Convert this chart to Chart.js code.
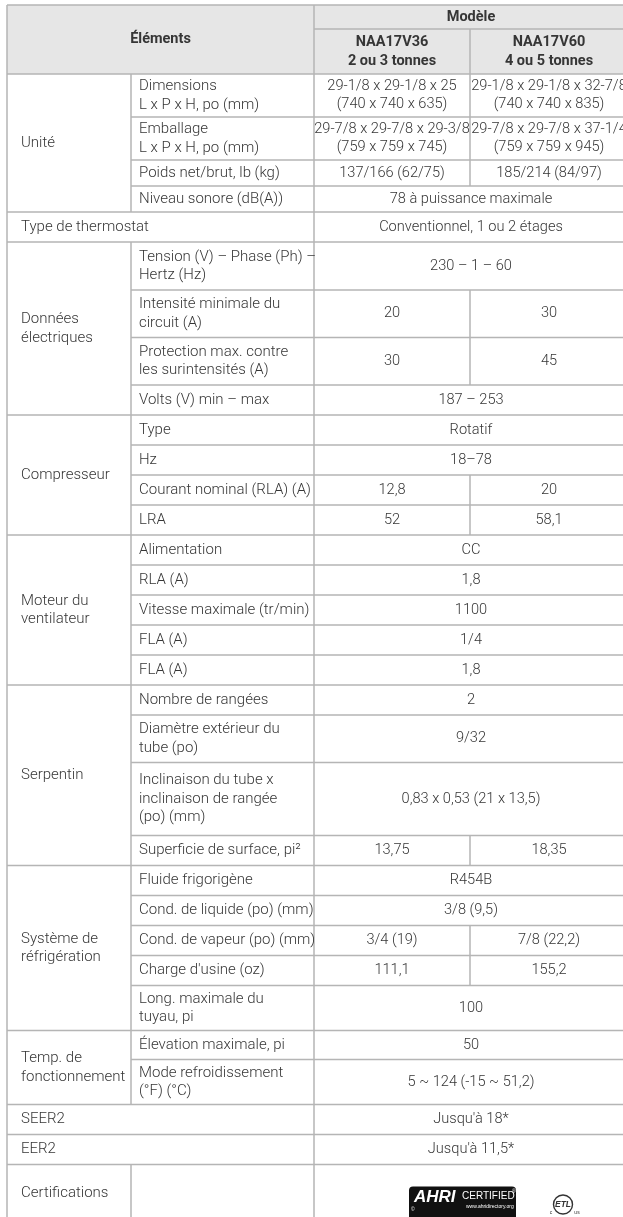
<!DOCTYPE html>
<html lang="fr">
<head>
<meta charset="utf-8">
<title>Caractéristiques NAA17V36 / NAA17V60</title>
<script src="https://cdn.jsdelivr.net/npm/chart.js@4.4.1/dist/chart.umd.min.js"></script>
<style>
  html, body { margin: 0; padding: 0; background: #fff; }
  #wrap { width: 623px; height: 1217px; }
</style>
</head>
<body>
<div id="wrap"><canvas id="specs"></canvas></div>
<script>
// contenu du tableau
const headerLabel = 'Éléments';
const modelLabel = 'Modèle';
const modelNames = ['NAA17V36', 'NAA17V60'];
const modelSizes = ['2 ou 3 tonnes', '4 ou 5 tonnes'];

const groupNames = ['Unité', 'Type de thermostat', 'Données\nélectriques', 'Compresseur', 'Moteur du\nventilateur',
  'Serpentin', 'Système de\nréfrigération', 'Temp. de\nfonctionnement', 'SEER2', 'EER2', 'Certifications'];
const groupSizes = [4, 1, 4, 4, 5, 4, 5, 2, 1, 1, 1];

// null = le libellé du groupe occupe aussi la colonne des paramètres
const paramLabels = [
  'Dimensions\nL x P x H, po (mm)', 'Emballage\nL x P x H, po (mm)', 'Poids net/brut, lb (kg)', 'Niveau sonore (dB(A))',
  null,
  'Tension (V) – Phase (Ph) –\nHertz (Hz)', 'Intensité minimale du\ncircuit (A)', 'Protection max. contre\nles surintensités (A)', 'Volts (V) min – max',
  'Type', 'Hz', 'Courant nominal (RLA) (A)', 'LRA',
  'Alimentation', 'RLA (A)', 'Vitesse maximale (tr/min)', 'FLA (A)', 'FLA (A)',
  'Nombre de rangées', 'Diamètre extérieur du\ntube (po)', 'Inclinaison du tube x\ninclinaison de rangée\n(po) (mm)', 'Superficie de surface, pi²',
  'Fluide frigorigène', 'Cond. de liquide (po) (mm)', 'Cond. de vapeur (po) (mm)', 'Charge d\'usine (oz)', 'Long. maximale du\ntuyau, pi',
  'Élevation maximale, pi', 'Mode refroidissement\n(°F) (°C)',
  null,
  null,
  ''
];

const valuesV36 = [
  '29-1/8 x 29-1/8 x 25\n(740 x 740 x 635)', '29-7/8 x 29-7/8 x 29-3/8\n(759 x 759 x 745)', '137/166 (62/75)', '78 à puissance maximale',
  'Conventionnel, 1 ou 2 étages',
  '230 – 1 – 60', '20', '30', '187 – 253',
  'Rotatif', '18–78', '12,8', '52',
  'CC', '1,8', '1100', '1/4', '1,8',
  '2', '9/32', '0,83 x 0,53 (21 x 13,5)', '13,75',
  'R454B', '3/8 (9,5)', '3/4 (19)', '111,1', '100',
  '50', '5 ~ 124 (-15 ~ 51,2)',
  'Jusqu\'à 18*',
  'Jusqu\'à 11,5*',
  ''
];

// null = même valeur pour les deux modèles (cellule fusionnée)
const valuesV60 = [
  '29-1/8 x 29-1/8 x 32-7/8\n(740 x 740 x 835)', '29-7/8 x 29-7/8 x 37-1/4\n(759 x 759 x 945)', '185/214 (84/97)', null,
  null,
  null, '30', '45', null,
  null, null, '20', '58,1',
  null, null, null, null, null,
  null, null, null, '18,35',
  null, null, '7/8 (22,2)', '155,2', null,
  null, null,
  null,
  null,
  null
];

const certLogos = ['AHRI', 'CERTIFIED', 'www.ahridirectory.org', 'ETL'];

// mise en page (unités de l'axe = pixels de la page)
const colEdges = [7, 131, 314, 470, 628];
const headerEdges = [5, 29, 74];
const rowHeights = [43, 43, 26, 26, 30, 48, 47.5, 47.5, 30, 30, 30, 30, 30, 30, 30, 30, 30, 30, 30, 47.5, 73, 30,
  30, 30, 30, 30, 45, 29, 45, 30, 30, 58];
const lineStep = 18.5;
const labelFont = '300 15px Roboto, "Liberation Sans", sans-serif';
const valueFont = '300 14.6px Roboto, "Liberation Sans", sans-serif';
const headFont = 'bold 14.5px Roboto, "Liberation Sans", sans-serif';
const textColor = '#363636';
const ruleColor = '#b5b5b5';
const headFill = '#e6e6e6';

const tablePlugin = {
  id: 'specTable',
  afterDraw(chart) {
    const { ctx, scales: { x, y } } = chart;
    const X = v => x.getPixelForValue(v);
    const Y = v => y.getPixelForValue(v);

    const rowTops = [headerEdges[2]];
    rowHeights.forEach(h => rowTops.push(rowTops[rowTops.length - 1] + h));

    const hline = (x0, x1, yv) => {
      ctx.beginPath(); ctx.moveTo(X(x0), Y(yv)); ctx.lineTo(X(x1), Y(yv)); ctx.stroke();
    };
    const vline = (xv, y0, y1) => {
      ctx.beginPath(); ctx.moveTo(X(xv), Y(y0)); ctx.lineTo(X(xv), Y(y1)); ctx.stroke();
    };
    const text = (str, xv, y0, y1, align) => {
      const lines = str.split('\n');
      const mid = (y0 + y1) / 2;
      ctx.textAlign = align;
      ctx.textBaseline = 'middle';
      lines.forEach((ln, i) => {
        ctx.fillText(ln, X(xv), Y(mid + (i - (lines.length - 1) / 2) * lineStep));
      });
    };

    ctx.save();
    // en-tête
    ctx.fillStyle = headFill;
    ctx.fillRect(X(colEdges[0]), Y(headerEdges[0]), X(colEdges[4]) - X(colEdges[0]), Y(headerEdges[2]) - Y(headerEdges[0]));

    ctx.fillStyle = textColor;
    ctx.font = headFont;
    text(headerLabel, (colEdges[0] + colEdges[2]) / 2, headerEdges[0], headerEdges[2], 'center');
    text(modelLabel, (colEdges[2] + colEdges[4]) / 2, headerEdges[0], headerEdges[1], 'center');
    modelNames.forEach((m, i) => {
      text(m + '\n' + modelSizes[i], (colEdges[2 + i] + colEdges[3 + i]) / 2, headerEdges[1], headerEdges[2] + 1, 'center');
    });

    ctx.strokeStyle = ruleColor;
    ctx.lineWidth = 1.5;
    hline(colEdges[0], colEdges[4], headerEdges[0]);
    hline(colEdges[2], colEdges[4], headerEdges[1]);
    hline(colEdges[0], colEdges[4], headerEdges[2]);
    vline(colEdges[0], headerEdges[0], rowTops[rowTops.length - 1]);
    vline(colEdges[2], headerEdges[0], rowTops[rowTops.length - 1]);
    vline(colEdges[3], headerEdges[1], headerEdges[2]);

    // corps
    let r = 0;
    groupNames.forEach((g, gi) => {
      const first = r, last = r + groupSizes[gi] - 1;
      const gTop = rowTops[first], gBot = rowTops[last + 1];
      ctx.fillStyle = textColor;
      ctx.font = labelFont;
      text(g, colEdges[0] + 14, gTop, gBot, 'left');
      if (paramLabels[first] !== null) {
        ctx.strokeStyle = ruleColor;
        vline(colEdges[1], gTop, gBot);
      }
      for (let i = first; i <= last; i++) {
        const t = rowTops[i], b = rowTops[i + 1];
        ctx.fillStyle = textColor;
        ctx.font = labelFont;
        if (paramLabels[i]) text(paramLabels[i], colEdges[1] + 8, t, b, 'left');
        ctx.font = valueFont;
        if (valuesV60[i] === null) {
          text(valuesV36[i], (colEdges[2] + colEdges[4]) / 2, t, b, 'center');
        } else {
          text(valuesV36[i], (colEdges[2] + colEdges[3]) / 2, t, b, 'center');
          text(valuesV60[i], (colEdges[3] + colEdges[4]) / 2, t, b, 'center');
          ctx.strokeStyle = ruleColor;
          vline(colEdges[3], t, b);
        }
        ctx.strokeStyle = ruleColor;
        hline(i === last ? colEdges[0] : colEdges[1], colEdges[4], b);
      }
      r = last + 1;
    });

    // logos de certification
    const cTop = rowTops[rowTops.length - 2];
    const bx0 = 409, bx1 = 516, by0 = cTop + 22;
    ctx.fillStyle = '#111';
    ctx.beginPath();
    ctx.roundRect(X(bx0), Y(by0), X(bx1) - X(bx0), Y(by0 + 45) - Y(by0), 4);
    ctx.fill();
    ctx.fillStyle = '#fff';
    ctx.textAlign = 'left';
    ctx.textBaseline = 'alphabetic';
    ctx.font = 'italic 900 17px "Liberation Sans", Arial, sans-serif';
    ctx.fillText(certLogos[0], X(bx0 + 5), Y(by0 + 15));
    ctx.font = '10px "Liberation Sans", Arial, sans-serif';
    ctx.fillText(certLogos[1], X(bx0 + 53), Y(by0 + 12));
    ctx.font = '5px "Liberation Sans", Arial, sans-serif';
    ctx.fillText('®', X(bx0 + 103), Y(by0 + 6));
    ctx.fillText(certLogos[2], X(bx0 + 57), Y(by0 + 21));
    ctx.fillText('©', X(bx0 + 2), Y(by0 + 24));

    const ex = 563, ey = cTop + 40;
    ctx.strokeStyle = '#333';
    ctx.lineWidth = 1.4;
    ctx.beginPath();
    ctx.arc(X(ex), Y(ey), 9.5, 0, Math.PI * 2);
    ctx.stroke();
    ctx.fillStyle = '#333';
    ctx.font = 'bold italic 8.5px "Liberation Sans", Arial, sans-serif';
    ctx.textAlign = 'center';
    ctx.textBaseline = 'middle';
    ctx.fillText(certLogos[3], X(ex), Y(ey));
    ctx.font = '5px "Liberation Sans", Arial, sans-serif';
    ctx.fillText('c', X(ex - 12), Y(ey + 8));
    ctx.fillText('us', X(ex + 14), Y(ey + 8));
    ctx.restore();
  }
};

new Chart(document.getElementById('specs'), {
  type: 'scatter',
  data: { datasets: [] },
  options: {
    responsive: true,
    maintainAspectRatio: false,
    animation: false,
    events: [],
    layout: { padding: 0 },
    scales: {
      x: { type: 'linear', min: 0, max: 623, display: false },
      y: { type: 'linear', min: 0, max: 1217, reverse: true, display: false }
    },
    plugins: { legend: { display: false }, tooltip: { enabled: false } }
  },
  plugins: [tablePlugin]
});
</script>
</body>
</html>
